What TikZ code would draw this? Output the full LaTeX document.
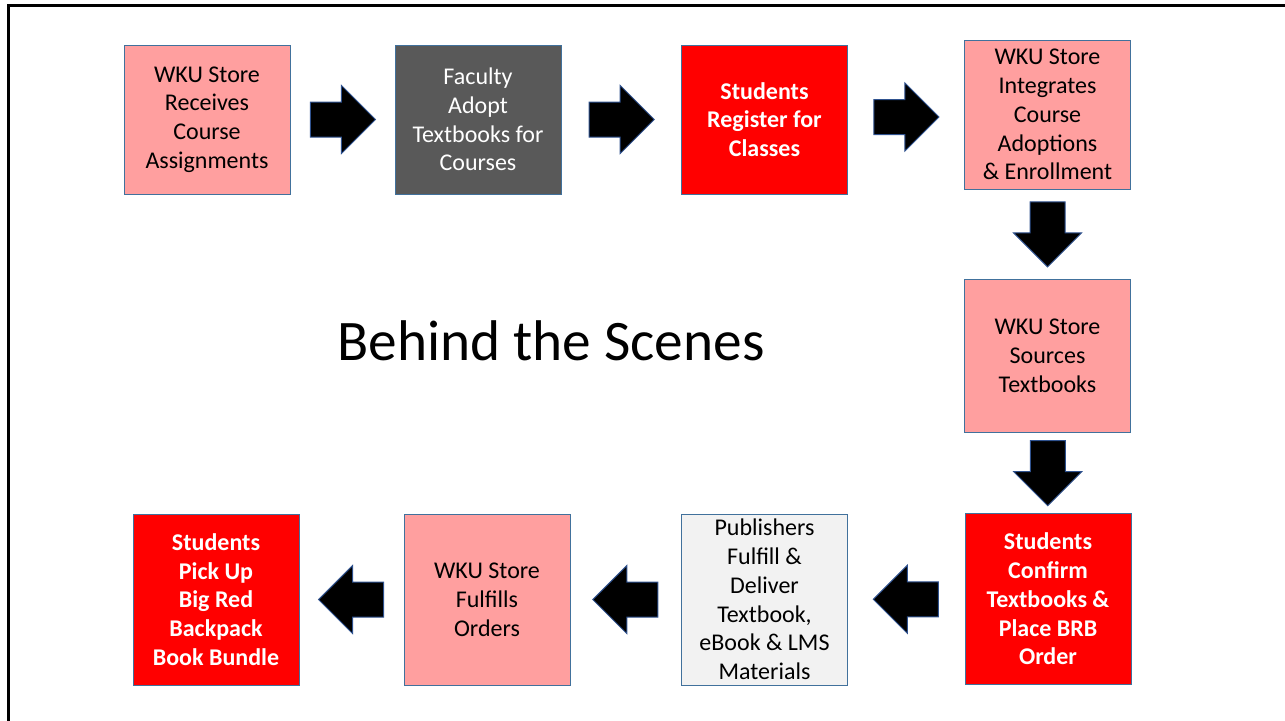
\documentclass[tikz,border=0pt]{standalone}
\usepackage{fontspec}
\setmainfont{Carlito}
\usepackage{xcolor}
\usepackage{tikz}
\usetikzlibrary{shapes,arrows.meta,calc}

\definecolor{storepink}{HTML}{FF9F9F}
\definecolor{facultygray}{HTML}{595959}
\definecolor{wkured}{HTML}{FF0000}
\definecolor{publgray}{HTML}{F2F2F2}
\definecolor{boxline}{HTML}{41719C}
\definecolor{arrowline}{HTML}{2F528F}

\begin{document}
\begin{tikzpicture}[x=0.75pt,y=-0.75pt,
textbox/.style={font=\fontsize{18}{21.6}\selectfont, draw=boxline, line width=0.75pt, minimum width=124.5pt, minimum height=111.75pt, inner sep=0pt, align=center},
redbox/.style={textbox, fill=wkured, text=white, font=\fontsize{18}{21.6}\selectfont\bfseries},
blockarrow/.style={single arrow, draw=arrowline, fill=black, line width=0.75pt, minimum height=48.75pt, single arrow head extend=12.375pt, single arrow tip angle=90, inner sep=12.75pt, anchor=tail},
rarrow/.style={blockarrow, xshift=-24.4pt},
darrow/.style={blockarrow, shape border rotate=270, yshift=24.4pt},
larrow/.style={blockarrow, shape border rotate=180, xshift=24.4pt}]
\useasboundingbox (0,0) rectangle (1285,721);
%slide frame
\draw[line width=2.25pt] (8.5,721) -- (8.5,5.5) -- (1285,5.5);
%top row
\node[textbox, fill=storepink] (v1) at (207,119.5) {WKU Store\\Receives\\Course\\Assignments};
\node[textbox, fill=facultygray, text=white] (v2) at (478,119.5) {Faculty\\Adopt\\Textbooks for\\Courses};
\node[redbox] (v3) at (764.5,119.5) {Students\\Register for\\Classes};
\node[textbox, fill=storepink] (v4) at (1047.5,114.5) {WKU Store\\Integrates\\Course\\Adoptions\\\& Enrollment};
%right column
\node[textbox, fill=storepink, minimum height=114.75pt] (v5) at (1047.5,355.5) {WKU Store\\Sources\\Textbooks};
\node[redbox, minimum height=128.25pt] (v6) at (1048,599) {Students\\Confirm\\Textbooks \&\\Place BRB\\Order};
%bottom row
\node[textbox, fill=publgray, minimum height=128.25pt] (v7) at (764.5,599.5) {Publishers\\Fulfill \&\\Deliver\\Textbook,\\eBook \& LMS\\Materials};
\node[textbox, fill=storepink, minimum height=128.25pt] (v8) at (487,599.5) {WKU Store\\Fulfills\\Orders};
\node[redbox, minimum height=128.25pt] (v9) at (216,599.5) {Students\\Pick Up\\Big Red\\Backpack\\Book Bundle};
\node (title) at (551,341) {\fontsize{43}{51}\selectfont Behind the Scenes};
%block arrows
\node[rarrow] (a1) at ($(v1.east)!0.5!(v2.west)$) {};
\node[rarrow] (a2) at ($(v2.east)!0.5!(v3.west)$) {};
\node[rarrow] (a3) at ($(v3.east)!0.5!(v4.west)$) {};
\node[darrow] (a4) at ($(v4.south)!0.5!(v5.north)$) {};
\node[darrow] (a5) at ($(v5.south)!0.5!(v6.north)$) {};
\node[larrow] (a6) at ($(v6.west)!0.5!(v7.east)$) {};
\node[larrow] (a7) at ($(v7.west)!0.5!(v8.east)$) {};
\node[larrow] (a8) at ($(v8.west)!0.5!(v9.east)$) {};
\end{tikzpicture}
\end{document}
